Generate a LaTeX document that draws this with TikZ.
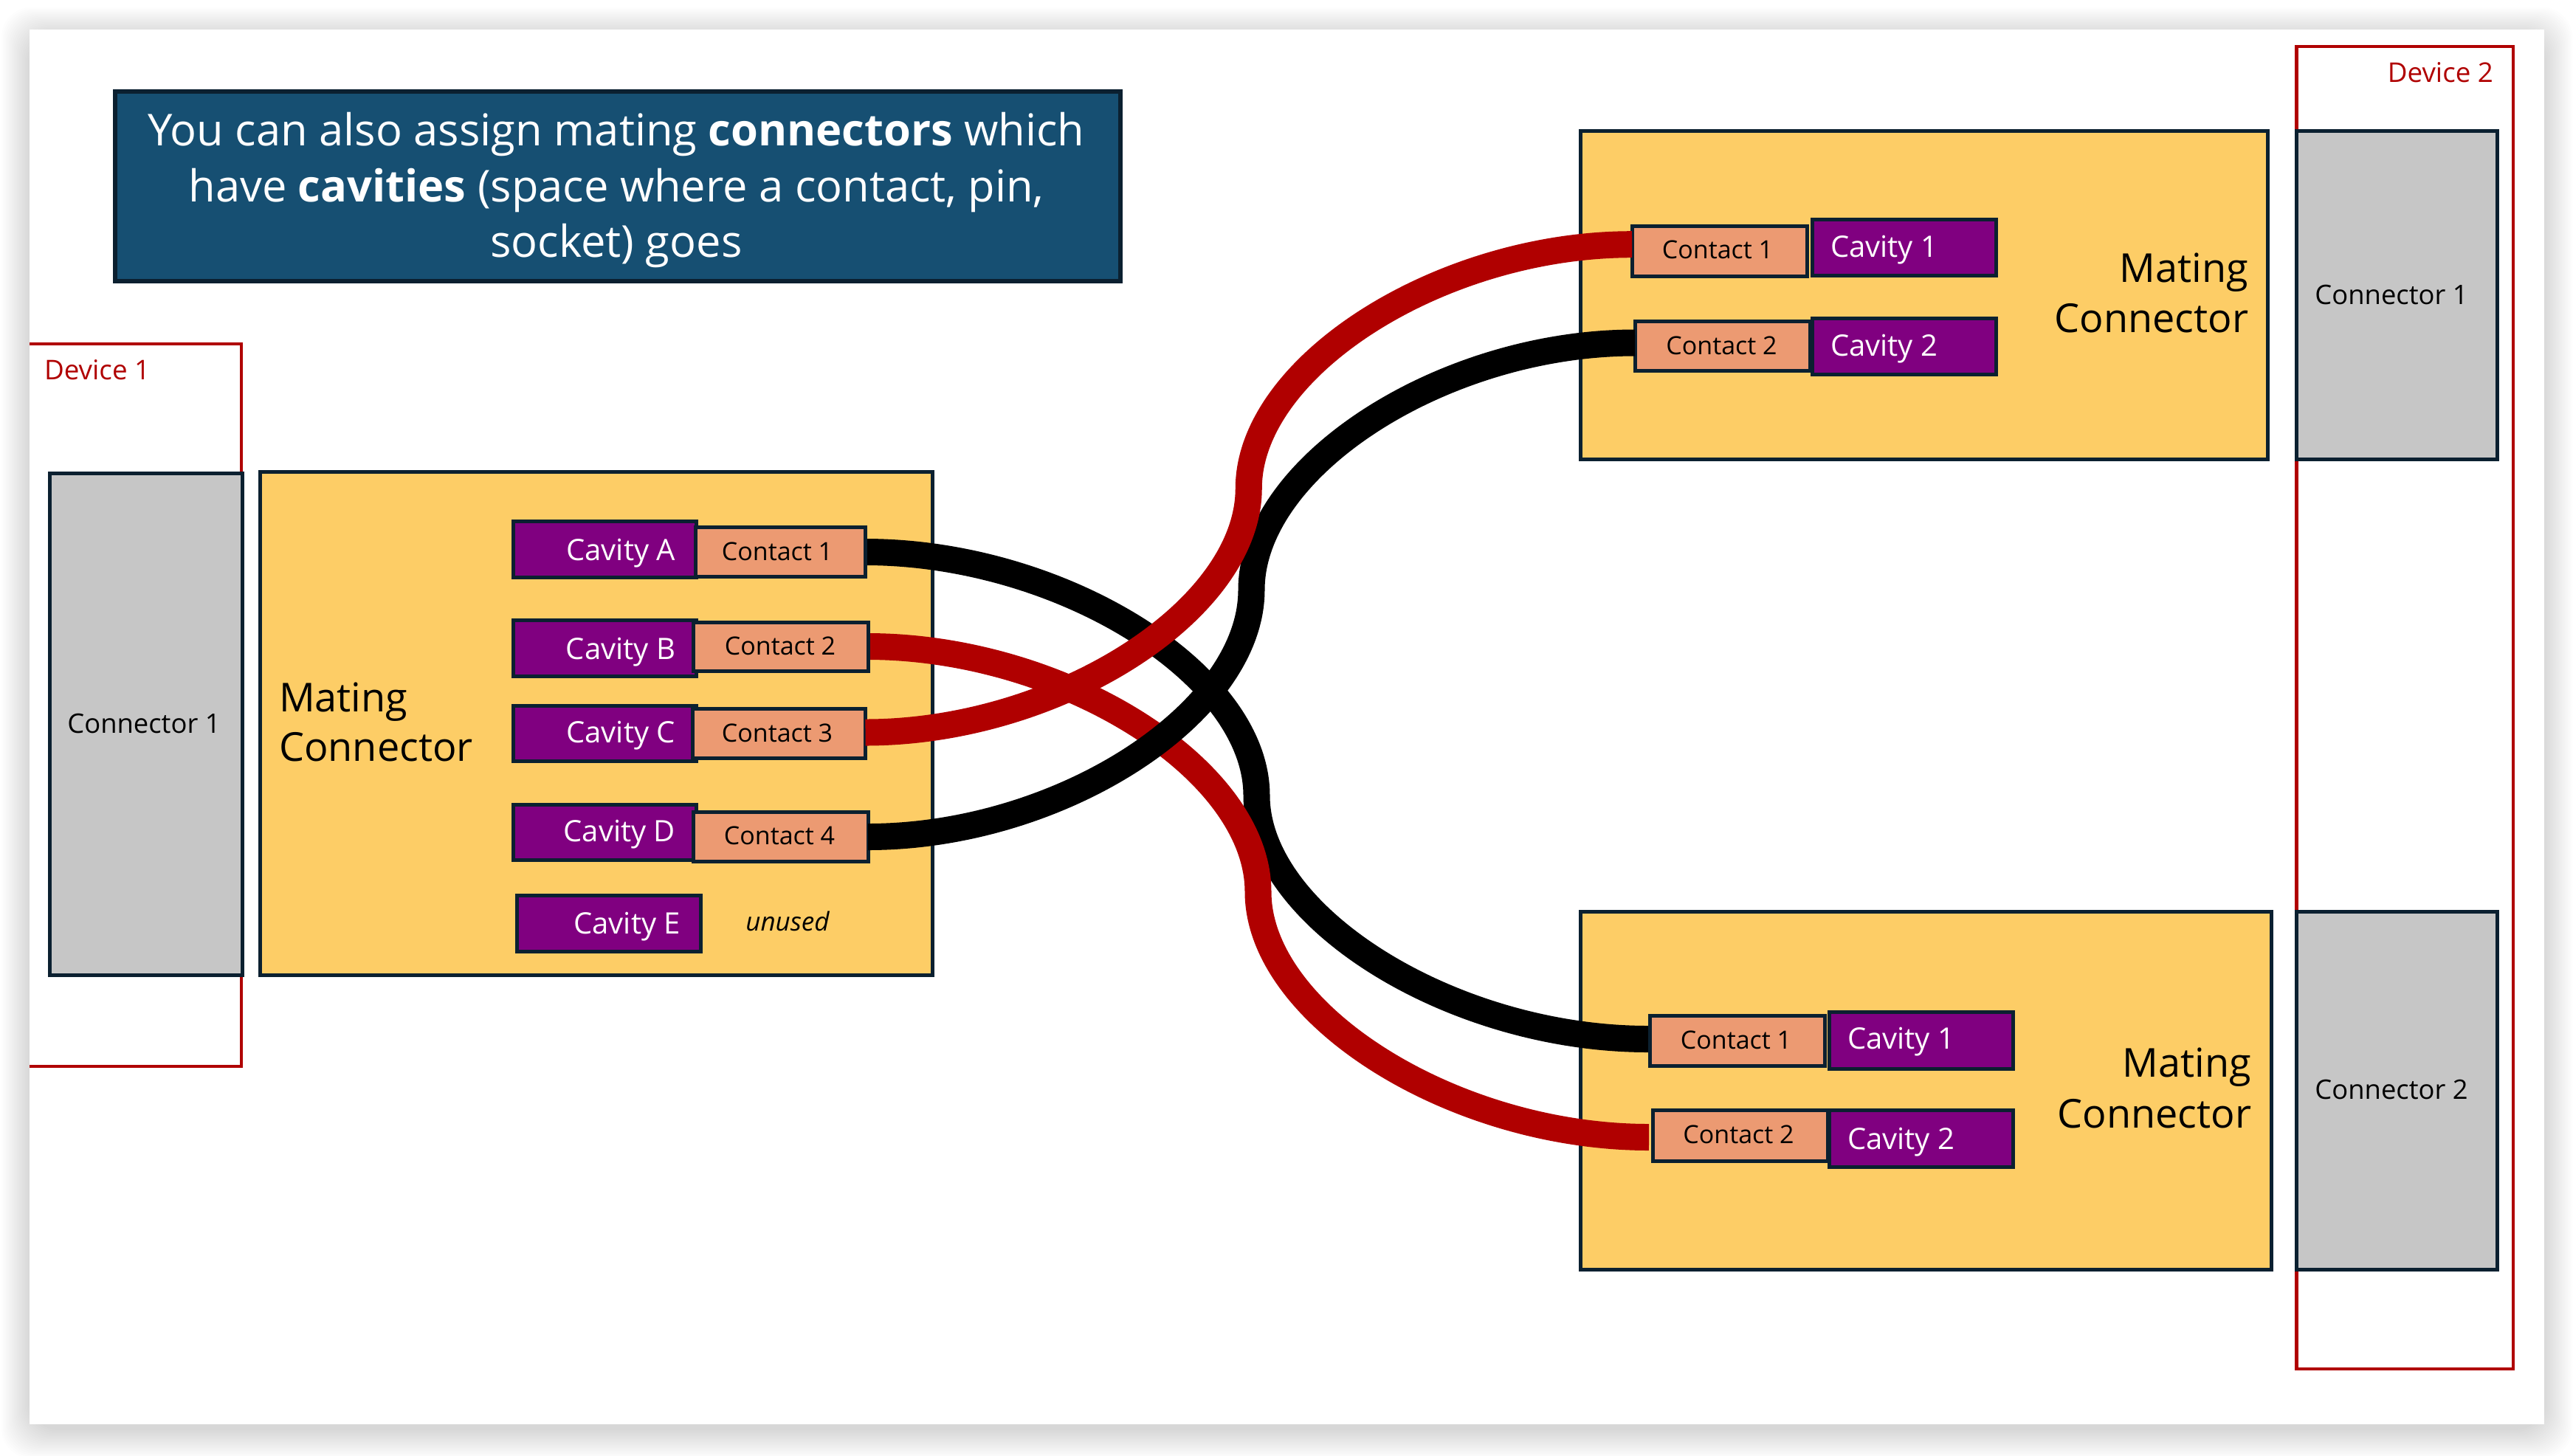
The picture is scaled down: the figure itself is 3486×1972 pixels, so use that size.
\documentclass[tikz,border=0pt]{standalone}
\usepackage{fontspec}
\setmainfont{Open Sans}
\usetikzlibrary{calc}
\definecolor{edge}{HTML}{0B2030}
\definecolor{titlefill}{HTML}{164F72}
\definecolor{mate}{HTML}{FDCD66}
\definecolor{cav}{HTML}{800080}
\definecolor{cont}{HTML}{EC9A72}
\definecolor{conn}{HTML}{C6C6C6}
\definecolor{devred}{HTML}{B00000}
\tikzset{
  boxbase/.style={draw=edge,line width=2.5pt,inner sep=0pt,outer sep=0pt},
  matebox/.style={boxbase,fill=mate},
  cavbox/.style={boxbase,fill=cav},
  contbox/.style={boxbase,fill=cont},
  connbox/.style={boxbase,fill=conn},
  titlebox/.style={boxbase,fill=titlefill,line width=2.9pt},
  wire/.style={line width=18pt,line cap=butt},
  devline/.style={draw=devred,line width=2.4pt},
  lab/.style={inner sep=0pt,outer sep=0pt,font=\fontsize{#1}{#1}\selectfont},
  lab/.default={17pt},
}
\newcommand{\bx}[6]{%
  \pgfmathsetmacro{\cxx}{(#3+#5)/2}\pgfmathsetmacro{\cyy}{(#4+#6)/2}%
  \pgfmathsetmacro{\ww}{(#5-#3)/2}\pgfmathsetmacro{\hh}{(#6-#4)/2}%
  \node[#2,minimum width=\ww pt,minimum height=\hh pt] (#1) at (\cxx,\cyy) {};}
\newcommand{\wirepath}[3]{%
  \coordinate (wa) at (#2); \coordinate (wb) at (#3);
  \coordinate (wm) at ($(wa)!.5!(wb)$);
  \coordinate (wq) at ($(wa)!.25!(wb)$);
  \coordinate (wr) at ($(wa)!.75!(wb)$);
  \draw[wire,#1] (wa) .. controls (wq |- wa) and (wq -| wm) .. (wm)
     .. controls (wr -| wm) and (wr |- wb) .. (wb);}
\begin{document}
\begin{tikzpicture}[x=0.5pt,y=-0.5pt]
\useasboundingbox (0,0) rectangle (3486,1972);
\fill[white] (0,0) rectangle (3486,1972);
% soft page shadow
\foreach \i in {0,...,19}{
  \pgfmathsetmacro{\d}{38-2*\i}
  \fill[black,opacity=0.007,rounded corners=20pt] (40-\d,48-\d) rectangle (3447+\d,1938+\d);
}
\node[fill=white,inner sep=0pt,outer sep=0pt,minimum width=1703.5pt,minimum height=945pt] (page) at (1743.5,985) {};
% device frames
\coordinate (d1a) at (40,466); \coordinate (d1b) at (327,466);
\coordinate (d1c) at (327,1445); \coordinate (d1d) at (40,1445);
\draw[devline] (d1a) -- (d1b) -- (d1c) -- (d1d);
\coordinate (d2a) at (3111.5,63); \coordinate (d2c) at (3405,1855);
\draw[devline] (d2a) rectangle (d2c);
\node[lab=18.4pt,text=devred,anchor=base west] (dev1) at (60,514) {Device 1};
\node[lab=18.4pt,text=devred,anchor=base east] (dev2) at (3378,111) {Device 2};
% title
\bx{title}{titlebox}{156}{124}{1518}{381}
\node[lab=29.8pt,text=white,anchor=base] (t1) at (835,197) {You can also assign mating \textbf{connectors} which};
\node[lab=29.8pt,text=white,anchor=base] (t2) at (835,273) {have \textbf{cavities} (space where a contact, pin,};
\node[lab=29.8pt,text=white,anchor=base] (t3) at (835,348) {socket) goes};
% housings
\bx{lconn}{connbox}{67.5}{641}{328}{1321}
\bx{lmate}{matebox}{352}{639}{1263}{1321}
\bx{tmate}{matebox}{2141.5}{177}{3072}{622}
\bx{tconn}{connbox}{3111.5}{177}{3383}{622}
\bx{bmate}{matebox}{2141.5}{1235.5}{3077}{1720}
\bx{bconn}{connbox}{3111.5}{1235.5}{3383}{1720}
\node[lab=18.2pt,anchor=base] (lconnt) at (195,993) {Connector 1};
\node[lab=18.2pt,anchor=base] (tconnt) at (3240,412) {Connector 1};
\node[lab=18.2pt,anchor=base] (bconnt) at (3240,1489) {Connector 2};
\node[lab=27pt,anchor=base west] (lm1) at (378,964) {Mating};
\node[lab=27pt,anchor=base west] (lm2) at (378,1031) {Connector};
\node[lab=27pt,anchor=base east] (tm1) at (3046,382) {Mating};
\node[lab=27pt,anchor=base east] (tm2) at (3046,450) {Connector};
\node[lab=27pt,anchor=base east] (bm1) at (3050,1459) {Mating};
\node[lab=27pt,anchor=base east] (bm2) at (3050,1528) {Connector};
% cavities
\bx{ca}{cavbox}{695}{706}{943}{782}
\bx{cb}{cavbox}{695}{840}{943}{916}
\bx{cc}{cavbox}{695}{956}{943}{1031}
\bx{cd}{cavbox}{695}{1090}{943}{1165}
\bx{ce}{cavbox}{700.5}{1213}{949.5}{1289}
\bx{tc1}{cavbox}{2455}{297}{2704}{373}
\bx{tc2}{cavbox}{2455}{431}{2704}{507}
\bx{bc1}{cavbox}{2478}{1371}{2727}{1448}
\bx{bc2}{cavbox}{2478}{1504}{2727}{1581}
% wires
\wirepath{black}{1172,748}{2233,1408}
\wirepath{devred}{1175,876}{2234,1541}
\bx{k1}{contbox}{942}{714}{1172}{781}
\bx{k2}{contbox}{939}{843}{1176}{909}
\bx{k3}{contbox}{938}{960}{1172.5}{1027}
\bx{k4}{contbox}{939}{1100}{1176}{1167}
\bx{tk1}{contbox}{2211}{306}{2448}{374}
\bx{tk2}{contbox}{2215}{435}{2452}{502}
\bx{bk1}{contbox}{2235}{1376}{2472}{1444}
\bx{bk2}{contbox}{2239}{1504}{2476}{1573}
\wirepath{black}{$(k4.east)+(0,-0.25pt)$}{$(tk2.west)+(0,2pt)$}
\wirepath{devred}{$(k3.east)+(0,0.5pt)$}{$(tk1.west)+(0,4.4pt)$}
% cavity labels
\tikzset{cavlab/.style={lab=20pt,text=white}}
\node[cavlab,anchor=base east] (cat) at (915,759) {Cavity A};
\node[cavlab,anchor=base east] (cbt) at (915,893) {Cavity B};
\node[cavlab,anchor=base east] (cct) at (915,1006) {Cavity C};
\node[cavlab,anchor=base east] (cdt) at (915,1140) {Cavity D};
\node[cavlab,anchor=base east] (cet) at (922,1265) {Cavity E};
\node[cavlab,anchor=base west] (tc1t) at (2480,348) {Cavity 1};
\node[cavlab,anchor=base west] (tc2t) at (2480,482) {Cavity 2};
\node[cavlab,anchor=base west] (bc1t) at (2503,1421) {Cavity 1};
\node[cavlab,anchor=base west] (bc2t) at (2503,1557) {Cavity 2};
% contact labels
\node[lab,anchor=base] (k1t) at (1053,759) {Contact 1};
\node[lab,anchor=base] (k2t) at (1057,887) {Contact 2};
\node[lab,anchor=base] (k3t) at (1053,1005) {Contact 3};
\node[lab,anchor=base] (k4t) at (1056,1144) {Contact 4};
\node[lab,anchor=base] (tk1t) at (2327,350) {Contact 1};
\node[lab,anchor=base] (tk2t) at (2332.5,480) {Contact 2};
\node[lab,anchor=base] (bk1t) at (2352,1421) {Contact 1};
\node[lab,anchor=base] (bk2t) at (2355.5,1549) {Contact 2};
\node[lab,anchor=base,font=\fontsize{17.5pt}{17.5pt}\selectfont\itshape] (unu) at (1067,1261) {unused};
\end{tikzpicture}
\end{document}
